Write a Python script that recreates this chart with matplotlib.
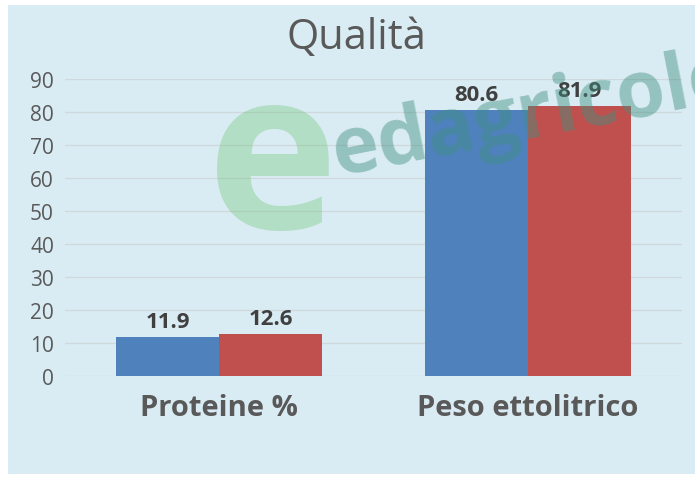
import numpy as np
import matplotlib.pyplot as plt

categories = ['Proteine %', 'Peso ettolitrico']
serie_1 = [11.9, 80.6]
serie_2 = [12.6, 81.9]
yticks = [0, 10, 20, 30, 40, 50, 60, 70, 80, 90]

bg = '#daecf3'
fig = plt.figure(figsize=(6.95, 4.81), dpi=100, facecolor='white')
# light blue chart area inside a thin white border
fig.patches.append(plt.Rectangle((8/695, 6/481), 1, 1 - 12/481, transform=fig.transFigure,
                                 facecolor=bg, edgecolor='none', zorder=-5))

ax = fig.add_axes([65/695, 1 - 377/481, 617/695, (377 - 80)/481])
ax.set_facecolor('none')

x = np.arange(len(categories))
w = 1/3
ax.bar(x - w/2, serie_1, width=w, color='#4f81bd', zorder=3)
ax.bar(x + w/2, serie_2, width=w, color='#c0504d', zorder=3)

for xi, v in zip(x - w/2, serie_1):
    ax.text(xi, v + 1.5, f'{v:.1f}', ha='center', va='bottom', fontsize=16,
            fontweight='bold', color='#404040', family='Open Sans', zorder=5)
for xi, v in zip(x + w/2, serie_2):
    ax.text(xi, v + 1.5, f'{v:.1f}', ha='center', va='bottom', fontsize=16,
            fontweight='bold', color='#404040', family='Open Sans', zorder=5)

ax.set_xlim(-0.5, 1.5)
ax.set_ylim(0, 90)
ax.set_yticks(yticks)
ax.set_yticklabels([str(t) for t in yticks], fontsize=15, color='#595959', family='Open Sans')
ax.set_xticks(x)
ax.set_xticklabels(categories, fontsize=21, fontweight='bold', color='#595959', family='Open Sans')
ax.tick_params(axis='both', length=0)
ax.tick_params(axis='y', pad=8)
ax.tick_params(axis='x', pad=12)
ax.grid(axis='y', color='#cfd8dc', linewidth=1, zorder=0)
for s in ax.spines.values():
    s.set_visible(False)

fig.text(356/695, 1 - 38/481, 'Qualità', ha='center', va='center', fontsize=30,
         color='#595959', family='Open Sans')

# watermark
fig.text(273/695, 1 - 60/481, 'e', ha='center', va='top', fontsize=160, fontweight='bold',
         color='#5cbf60', alpha=0.3, family='Open Sans', zorder=10, linespacing=0.8)
fig.text(534/695, 1 - 116/481, 'edagricole', ha='center', va='center', fontsize=57,
         fontweight='bold', color='#3f8f80', alpha=0.45, rotation=11, family='Open Sans', zorder=10)

fig.savefig('out.png', dpi=100, facecolor='white')
